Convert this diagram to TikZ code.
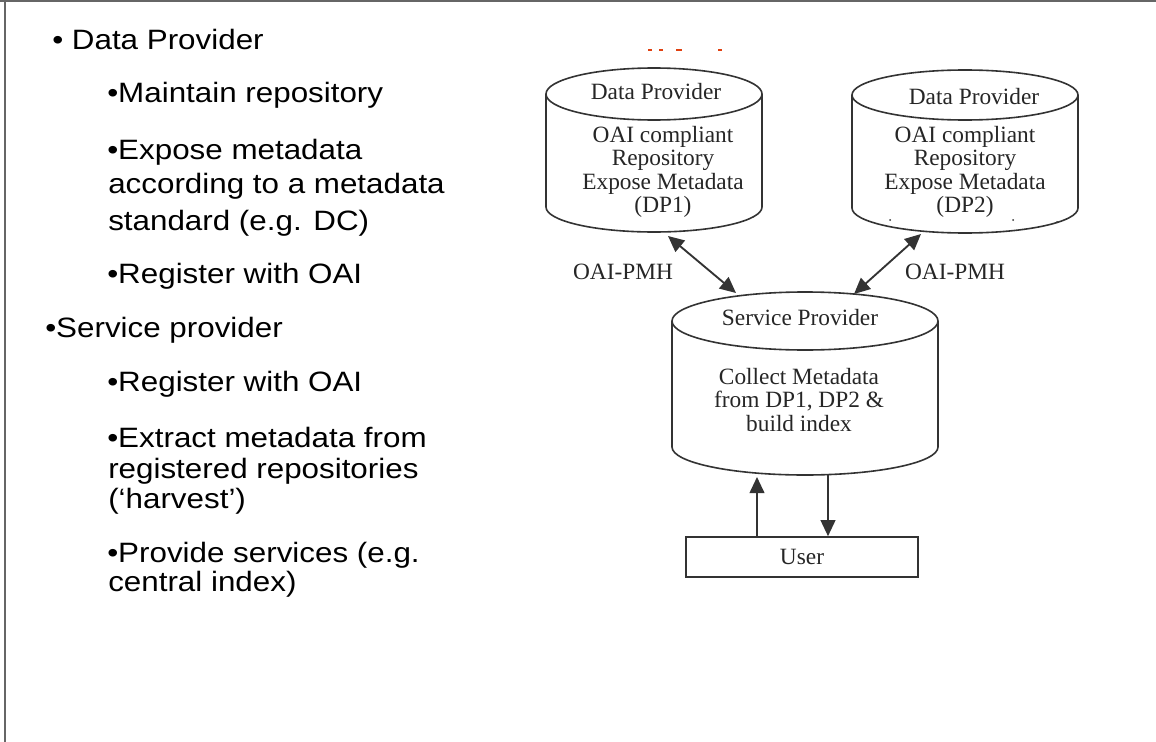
\documentclass[tikz,border=0pt]{standalone}
\usepackage{fontspec}
\setmainfont{Liberation Serif}
\newfontfamily\bulletfont[FakeStretch=1.12]{Liberation Sans}
\usetikzlibrary{arrows.meta}
\definecolor{ink}{HTML}{333333}
\definecolor{redmark}{HTML}{E04010}
\tikzset{
  cyl/.style={draw=ink, line width=1.2pt},
  frame/.style={draw=black!60, line width=1.5pt},
  flow/.style={draw=ink, line width=1.4pt, -{Triangle[length=12pt,width=11pt]}},
  twoway/.style={draw=ink, line width=1.4pt, {Triangle[length=12pt,width=11pt]}-{Triangle[length=12pt,width=11pt]}},
  lbl/.style={inner sep=0pt, text=black!85, font=\fontsize{17.5}{17.5}\selectfont},
  body/.style={inner sep=0pt, align=center, text=black!85, font=\fontsize{17.5}{17.5}\selectfont},
  bul/.style={anchor=base west, inner sep=0pt, font=\bulletfont\fontsize{21}{21}\selectfont},
  userbox/.style={draw=ink, line width=1.2pt, minimum width=174pt, minimum height=30pt, inner sep=0pt, text=black!85, font=\fontsize{17.5}{17.5}\selectfont},
}
\begin{document}
\begin{tikzpicture}[x=0.75pt, y=-0.75pt]
\useasboundingbox (0,0) rectangle (1156,742);
\fill[white] (0,0) rectangle (1156,742);
% frame
\draw[frame] (0,1.5) -- (1156,1.5);
\draw[frame] (5,0) -- (5,742);

% left text
\node[bul] (t1) at (52,50) {• Data Provider};
\node[bul] (t2) at (107,103) {•Maintain repository};
\node[bul] (t3) at (107,159) {•Expose metadata};
\node[bul] (t3b) at (108,193) {according to a metadata};
\node[bul] (t3c) at (108,230) {standard (e.g. DC)};
\node[bul] (t4) at (107,283) {•Register with OAI};
\node[bul] (t5) at (45,337) {•Service provider};
\node[bul] (t6) at (107,391) {•Register with OAI};
\node[bul] (t7) at (107,447) {•Extract metadata from};
\node[bul] (t7b) at (108,478) {registered repositories};
\node[bul] (t7c) at (108,508) {(‘harvest’)};
\node[bul] (t8) at (107,562) {•Provide services (e.g.};
\node[bul] (t8b) at (108,591) {central index)};

% red marks
\fill[redmark] (648,49) rectangle (652,51.5);
\fill[redmark] (659,49) rectangle (663,51.5);
\fill[redmark] (676,49) rectangle (682,51.5);
\fill[redmark] (718,49) rectangle (722,51.5);

% DP1 cylinder
\draw[cyl] (654,94) ellipse [x radius=108, y radius=26];
\draw[cyl] (546,94) -- (546,207) arc [start angle=180, end angle=0, x radius=108, y radius=25] -- (762,94);
\node[lbl] (dp1t) at (656,92) {Data Provider};
\node[body] (dp1b) at (663,172) {OAI compliant\\Repository\\Expose Metadata\\(DP1)};

% DP2 cylinder
\draw[cyl] (965,95) ellipse [x radius=113, y radius=25];
\draw[cyl] (852,95) -- (852,208) arc [start angle=180, end angle=0, x radius=113, y radius=25] -- (1078,95);
\node[lbl] (dp2t) at (974,97) {Data Provider};
\node[body] (dp2b) at (965,172) {OAI compliant\\Repository\\Expose Metadata\\(DP2)};
\fill[ink] (890,220) circle [radius=1];
\fill[ink] (1013,220) circle [radius=1];
\fill[ink] (1057,222) circle [radius=1];

% Service provider cylinder
\draw[cyl] (805,321) ellipse [x radius=133, y radius=29];
\draw[cyl] (672,321) -- (672,447) arc [start angle=180, end angle=0, x radius=133, y radius=28] -- (938,321);
\node[lbl] (spt) at (800,318) {Service Provider};
\node[body] (spb) at (799,400) {Collect Metadata\\from DP1, DP2 \&\\build index};

% user
\node[userbox] (user) at (802,557) {User};

% connector ends
\coordinate (dp1out) at (668,236);
\coordinate (spin1) at (736,293);
\coordinate (dp2out) at (921,234);
\coordinate (spin2) at (854,294);
\coordinate (spbotL) at (757,477);
\coordinate (spbotR) at (828,475);

\draw[twoway] (dp1out) -- (spin1);
\draw[twoway] (dp2out) -- (spin2);
\draw[flow] (user.north -| spbotL) -- (spbotL);
\draw[flow] (spbotR) -- (user.north -| spbotR);

\node[lbl] (oai1) at (623,272) {OAI-PMH};
\node[lbl] (oai2) at (955,272) {OAI-PMH};
\end{tikzpicture}
\end{document}
